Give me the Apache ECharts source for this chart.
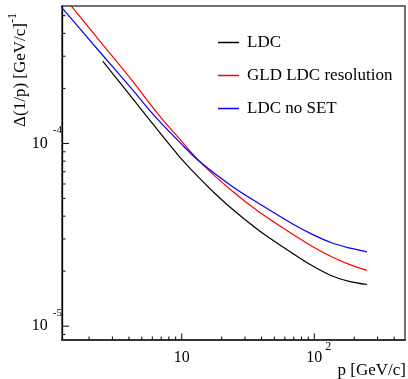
<!DOCTYPE html>
<html><head><meta charset="utf-8">
<script src="https://cdn.jsdelivr.net/npm/echarts@6/dist/echarts.min.js"></script>
<style>html,body{margin:0;padding:0;background:#fff}#c{width:408px;height:379px}</style>
</head><body><div id="c"></div>
<script>
// ---- data ----
const seriesNames = ['LDC', 'GLD LDC resolution', 'LDC no SET'];
const seriesColors = ['#000000', '#ff0000', '#0000ff'];

const ldcP   = [2.537, 3.444, 5.783, 9.71, 13.72, 18.31, 25.55, 38.67, 68.75, 96.6, 136.5, 183, 250];
const ldcRes = [2.817e-4, 2.135e-4, 1.332e-4, 8.39e-5, 6.42e-5, 5.22e-5, 4.21e-5, 3.32e-5, 2.50e-5, 2.14e-5, 1.88e-5, 1.76e-5, 1.69e-5];

const gldP   = [1.3, 1.477, 2.438, 4.095, 7.079, 9.71, 13.72, 24.38, 38.67, 68.75, 96.6, 136.5, 183, 250];
const gldRes = [6.30e-4, 5.63e-4, 3.60e-4, 2.268e-4, 1.366e-4, 1.052e-4, 7.93e-5, 5.44e-5, 4.20e-5, 3.18e-5, 2.73e-5, 2.39e-5, 2.18e-5, 2.02e-5];

const noSetP   = [1.2, 1.265, 2.438, 4.095, 6.305, 9.71, 13.72, 24.38, 38.67, 68.75, 96.6, 136.5, 183, 250];
const noSetRes = [5.71e-4, 5.47e-4, 3.135e-4, 2.031e-4, 1.401e-4, 1.010e-4, 7.93e-5, 5.77e-5, 4.66e-5, 3.62e-5, 3.18e-5, 2.85e-5, 2.68e-5, 2.55e-5];

const X_MIN = 1.25, X_MAX = 483;
const Y_MIN = 8.4e-6, Y_MAX = 5.65e-4;

const xMajorTicks = [10, 100];
const xMinorTicks = [2, 3, 4, 5, 6, 7, 8, 9, 20, 30, 40, 50, 60, 70, 80, 90, 200, 300, 400];
const yMajorTicks = [1e-5, 1e-4];
const yMinorTicks = [9e-6, 2e-5, 3e-5, 4e-5, 5e-5, 6e-5, 7e-5, 8e-5, 9e-5, 2e-4, 3e-4, 4e-4, 5e-4];

const xTitle = 'p [GeV/c]';
const yTitle = 'Δ(1/p) [GeV/c]';
const yTitleExp = '-1';

// ---- chart ----
const FONT = 'Liberation Serif';
const pairs = (xs, ys) => xs.map((x, i) => [x, ys[i]]);
const dataSets = [pairs(ldcP, ldcRes), pairs(gldP, gldRes), pairs(noSetP, noSetRes)];

function powExp(v) {
  const l = Math.log10(v), e = Math.round(l);
  return Math.abs(l - e) < 1e-6 ? e : null;
}

const chart = echarts.init(document.getElementById('c'), null, { renderer: 'canvas' });

const lineSeries = seriesNames.map((n, i) => ({
  name: n, type: 'line', data: dataSets[i], showSymbol: false, symbol: 'none',
  smooth: 0.35, clip: true, z: 3,
  lineStyle: { color: seriesColors[i], width: 1.2 }, itemStyle: { color: seriesColors[i] }
}));

const xTicks = {
  type: 'custom', silent: true, z: 6, clip: false,
  data: xMajorTicks.map(v => [v, Y_MIN, 6.5]).concat(xMinorTicks.map(v => [v, Y_MIN, 3.5])),
  renderItem: (params, api) => {
    const p = api.coord([api.value(0), api.value(1)]);
    return { type: 'line', shape: { x1: p[0], y1: p[1], x2: p[0], y2: p[1] - api.value(2) },
      style: { stroke: '#000', lineWidth: 1 } };
  }
};
const yTicks = {
  type: 'custom', silent: true, z: 6, clip: false,
  data: yMajorTicks.map(v => [X_MIN, v, 7]).concat(yMinorTicks.map(v => [X_MIN, v, 3.5])),
  renderItem: (params, api) => {
    const p = api.coord([api.value(0), api.value(1)]);
    return { type: 'line', shape: { x1: p[0], y1: p[1], x2: p[0] + api.value(2), y2: p[1] },
      style: { stroke: '#000', lineWidth: 1 } };
  }
};

chart.setOption({
  animation: false,
  backgroundColor: '#fff',
  grid: { left: 62, right: 2, top: 6, bottom: 39, show: true, borderColor: '#444', borderWidth: 1.5 },
  legend: {
    orient: 'vertical', left: 213, top: 29, itemWidth: 21, itemHeight: 1.5, itemGap: 16,
    icon: 'rect', data: seriesNames, selectedMode: false,
    textStyle: { fontFamily: FONT, fontSize: 17, color: '#000', lineHeight: 17, padding: [0, 0, 0, 3] }
  },
  xAxis: {
    type: 'log', logBase: 10, min: X_MIN, max: X_MAX,
    axisLine: { show: true, onZero: false, lineStyle: { color: '#333', width: 2 } },
    axisTick: { show: false }, splitLine: { show: false }, minorTick: { show: false },
    axisLabel: {
      margin: 1, color: '#000',
      formatter: v => { const e = powExp(v); if (e === null) return ''; return e === 1 ? '{b|10}' : '{p| }{b|10}{s|' + e + '}'; },
      rich: {
        b: { fontFamily: FONT, fontSize: 16, lineHeight: 34, color: '#000' },
        s: { fontFamily: FONT, fontSize: 12, lineHeight: 12, verticalAlign: 'top', padding: [0, 0, 0, 3], color: '#000' },
        p: { fontFamily: FONT, fontSize: 12, width: 9 }
      }
    }
  },
  yAxis: {
    type: 'log', logBase: 10, min: Y_MIN, max: Y_MAX,
    axisLine: { show: true, onZero: false, lineStyle: { color: '#000', width: 1.3 } },
    axisTick: { show: false }, splitLine: { show: false }, minorTick: { show: false },
    axisLabel: {
      margin: 0, color: '#000',
      formatter: v => { const e = powExp(v); if (e === null) return ''; return '{b|10}{s|' + e + '}'; },
      rich: {
        b: { fontFamily: FONT, fontSize: 16, lineHeight: 38, color: '#000' },
        s: { fontFamily: FONT, fontSize: 11, lineHeight: 11, verticalAlign: 'top', padding: [0, 0, 0, 5], color: '#000' }
      }
    }
  },
  graphic: [
    { type: 'text', right: 2, top: 362, silent: true,
      style: { text: xTitle, fontFamily: FONT, fontSize: 17, fill: '#000' } },
    { type: 'text', x: 20.5, y: 13, rotation: Math.PI / 2, silent: true,
      style: { text: '{a|' + yTitle + '}{s|' + yTitleExp + '}', align: 'right', verticalAlign: 'middle',
        rich: {
          a: { fontFamily: FONT, fontSize: 17, lineHeight: 28, fill: '#000' },
          s: { fontFamily: FONT, fontSize: 12, lineHeight: 12, verticalAlign: 'top', fill: '#000' }
        } } }
  ],
  series: lineSeries.concat([xTicks, yTicks])
});
</script>
</body></html>
